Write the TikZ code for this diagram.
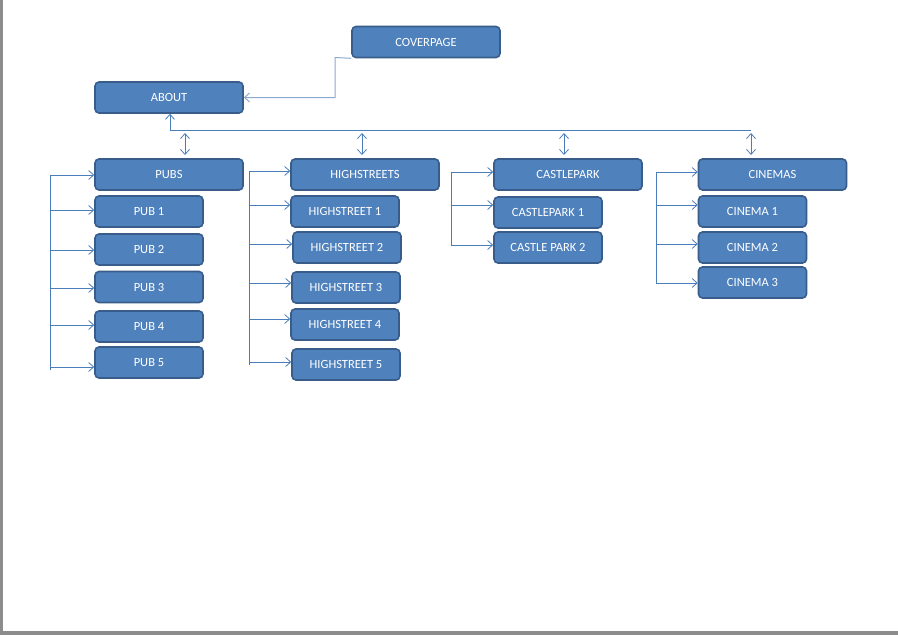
\documentclass[tikz,border=0pt]{standalone}
\usepackage{fontspec}
\setmainfont{Carlito}
\usetikzlibrary{arrows.meta}
\definecolor{boxfill}{HTML}{4F81BD}
\definecolor{boxline}{HTML}{385D8A}
\definecolor{conn}{HTML}{4A7EBB}
\definecolor{connlight}{HTML}{8EA9CF}
\tikzset{
  box/.style={draw=boxline, line width=1.6pt, fill=boxfill, rounded corners=4pt,
    text=white, font=\fontsize{12.5}{14}\selectfont, inner sep=0pt, anchor=center},
  wide/.style={box, minimum width=148pt, minimum height=31pt},
  narrow/.style={box, minimum width=108pt, minimum height=31pt},
  link/.style={draw=conn, line width=0.8pt, -{Straight Barb[length=5pt,width=9pt]}},
  dbl/.style={draw=conn, line width=0.8pt, {Straight Barb[length=5pt,width=9pt]}-{Straight Barb[length=5pt,width=9pt]}},
  rail/.style={draw=conn, line width=0.8pt},
}
\begin{document}
\begin{tikzpicture}[x=1pt,y=-1pt]
\useasboundingbox (0,0) rectangle (898,635);
\fill[white] (0,0) rectangle (898,635);
\fill[gray!90] (0,0) rectangle (2.5,635);
\fill[gray!90] (0,630.5) rectangle (898,635);

\node[wide] (cover) at (426,42) {COVERPAGE};
\node[wide] (about) at (169,97.5) {ABOUT};

\node[wide] (pubs) at (169,174.5) {PUBS};
\node[narrow] (pub1) at (149,211.5) {PUB 1};
\node[narrow] (pub2) at (149,249.5) {PUB 2};
\node[narrow] (pub3) at (149,287) {PUB 3};
\node[narrow] (pub4) at (149,326.5) {PUB 4};
\node[narrow] (pub5) at (149,362.5) {PUB 5};

\node[wide] (hs) at (365,174.5) {HIGHSTREETS};
\node[narrow] (hs1) at (345,211.5) {HIGHSTREET 1};
\node[narrow] (hs2) at (347,247.5) {HIGHSTREET 2};
\node[narrow] (hs3) at (346,287.5) {HIGHSTREET 3};
\node[narrow] (hs4) at (345,324.5) {HIGHSTREET 4};
\node[narrow] (hs5) at (346,364.5) {HIGHSTREET 5};

\node[wide] (cp) at (568,174.5) {CASTLEPARK};
\node[narrow] (cp1) at (548,212.5) {CASTLEPARK 1};
\node[narrow] (cp2) at (548,247.5) {CASTLE PARK 2};

\node[wide] (cin) at (772.5,174.5) {CINEMAS};
\node[narrow] (cin1) at (752.5,211.5) {CINEMA 1};
\node[narrow] (cin2) at (752.5,247.5) {CINEMA 2};
\node[narrow] (cin3) at (752.5,282.5) {CINEMA 3};

% cover -> about
\coordinate (cv0) at (335,57.5);
\draw[draw=connlight, line width=1pt, -{Straight Barb[length=5pt,width=9pt]}]
  (cover.south west) -- (cv0) |- (about.east);

% bus
\coordinate (busL) at (170,130);
\coordinate (busR) at (751,130);
\draw[rail] (busR) -- (busL);
\draw[link] (busL) -- (about.south -| busL);
\draw[dbl] (185,133) -- (185,155);
\draw[dbl] (362,133) -- (362,155);
\draw[dbl] (564,133) -- (564,155);
\draw[dbl] (751,133) -- (751,155);

% pubs bracket
\coordinate (pt) at (50.5,175);
\coordinate (pb) at (50.5,370);
\draw[rail] (pt) -- (pb);
\draw[link] (pt) -- (pubs.west |- pt);
\foreach \n/\y in {pub1/210,pub2/250,pub3/288,pub4/325,pub5/367}
  \draw[link] (50.5,\y) -- (\n.west |- 0,\y);

% highstreets bracket
\coordinate (ht) at (249,171);
\coordinate (hb) at (249,365);
\draw[rail] (ht) -- (hb);
\draw[link] (ht) -- (hs.west |- ht);
\foreach \n/\y in {hs1/205,hs2/244,hs3/283,hs4/319,hs5/362}
  \draw[link] (249,\y) -- (\n.west |- 0,\y);

% castlepark bracket
\coordinate (ct) at (451,172);
\coordinate (cb) at (451,245);
\draw[rail] (ct) -- (cb);
\draw[link] (ct) -- (cp.west |- ct);
\foreach \n/\y in {cp1/205,cp2/245}
  \draw[link] (451,\y) -- (\n.west |- 0,\y);

% cinemas bracket
\coordinate (nt) at (656,172);
\coordinate (nb) at (656,284);
\draw[rail] (nt) -- (nb);
\draw[link] (nt) -- (cin.west |- nt);
\foreach \n/\y in {cin1/205,cin2/244,cin3/283}
  \draw[link] (656,\y) -- (\n.west |- 0,\y);
\end{tikzpicture}
\end{document}
